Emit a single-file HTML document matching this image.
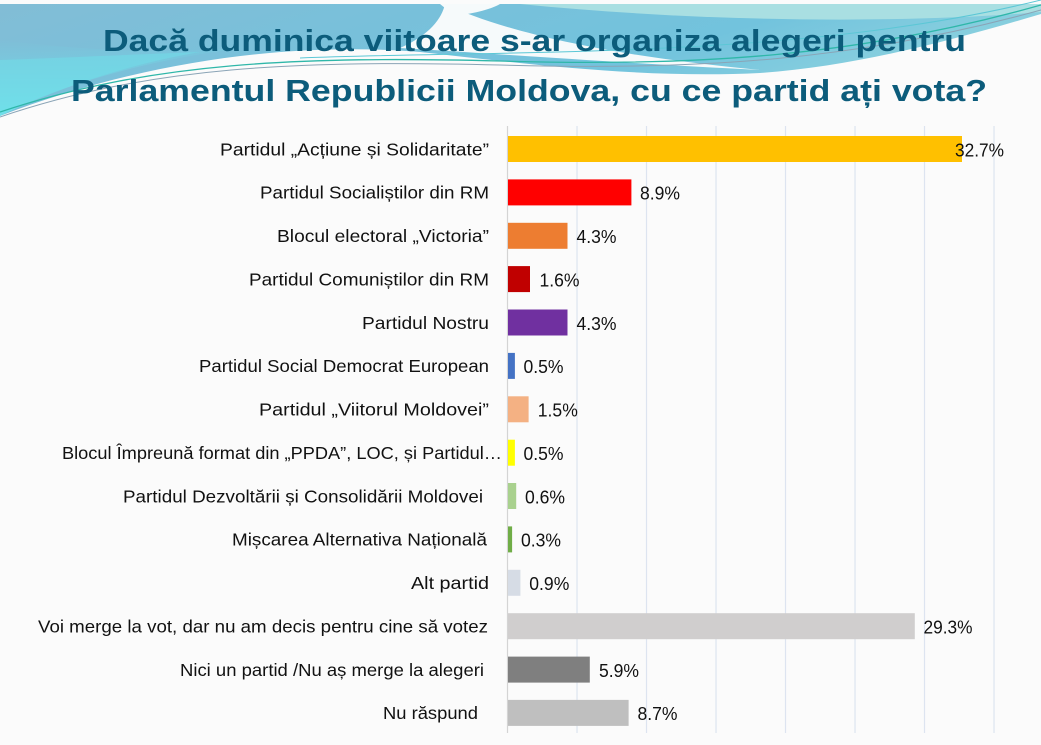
<!DOCTYPE html>
<html>
<head>
<meta charset="utf-8">
<style>
  html,body{margin:0;padding:0;background:#fbfbfb;}
  svg{display:block;}
  text{font-family:"Liberation Sans",sans-serif;}
</style>
</head>
<body>
<svg width="1041" height="745" viewBox="0 0 1041 745" xmlns="http://www.w3.org/2000/svg">
  <defs>
    <linearGradient id="gMain" x1="0" y1="0" x2="1" y2="0.35">
      <stop offset="0" stop-color="#82bdd6"/>
      <stop offset="0.35" stop-color="#79c0da"/>
      <stop offset="0.7" stop-color="#72c3dd"/>
      <stop offset="1" stop-color="#8fd3df"/>
    </linearGradient>
    <linearGradient id="gCyan" x1="0" y1="0" x2="0" y2="1">
      <stop offset="0" stop-color="#6fe0ea" stop-opacity="0"/>
      <stop offset="1" stop-color="#6fe4ec" stop-opacity="0.9"/>
    </linearGradient>
  </defs>

  <rect x="0" y="0" width="1041" height="745" fill="#fbfbfb"/>

  <!-- header decoration -->
  <path d="M0,4 H1041 V14 C 960,38 860,66 760,73 C 640,79 520,63 420,52 C 300,42 150,58 0,116 Z" fill="url(#gMain)"/>
  <path d="M0,40 C 80,50 160,55 260,46 C 150,58 60,85 0,116 Z" fill="url(#gCyan)"/>
  <path d="M0,60 L0,116 C 60,88 120,66 200,52 C 120,55 60,58 0,60 Z" fill="#6fe0ea" opacity="0.5"/>
  <path d="M520,4 H1041 V12 C 900,24 700,22 520,4 Z" fill="#a9dfe2"/>
  <path d="M445,4 C 500,30 600,55 760,70 C 620,63 500,54 400,48 C 430,35 442,18 445,4 Z" fill="#f6fafb"/>
  <path d="M440,4 C 470,4 480,4 500,4 C 490,10 470,14 455,16 Z" fill="#f6fafb"/>
  <path d="M0,112 C 150,62 300,56 500,61 C 700,67 860,56 1041,5" fill="none" stroke="#2fb7a9" stroke-width="1.3"/>
  <path d="M0,117 C 150,66 300,60 500,65 C 700,71 860,60 1041,10" fill="none" stroke="#8aa4b6" stroke-width="1"/>
  <path d="M300,58 C 500,50 800,60 1041,0" fill="none" stroke="#5cc7d6" stroke-width="1"/>

  <!-- title -->
  <text x="103" y="51" font-size="31" font-weight="bold" fill="#0c5c7b" textLength="863" lengthAdjust="spacingAndGlyphs">Dacă duminica viitoare s-ar organiza alegeri pentru</text>
  <text x="71" y="101" font-size="31" font-weight="bold" fill="#0c5c7b" textLength="916" lengthAdjust="spacingAndGlyphs">Parlamentul Republicii Moldova, cu ce partid ați vota?</text>

  <!-- gridlines -->
  <g stroke="#dde4f0" stroke-width="1.2">
    <line x1="577" y1="126" x2="577" y2="733"/>
    <line x1="646.5" y1="126" x2="646.5" y2="733"/>
    <line x1="716" y1="126" x2="716" y2="733"/>
    <line x1="785.5" y1="126" x2="785.5" y2="733"/>
    <line x1="855" y1="126" x2="855" y2="733"/>
    <line x1="924.5" y1="126" x2="924.5" y2="733"/>
    <line x1="994" y1="126" x2="994" y2="733"/>
  </g>
  <line x1="507.5" y1="126" x2="507.5" y2="733" stroke="#d4d4d4" stroke-width="1.2"/>

  <!-- bars -->
  <rect x="508" y="136" width="454" height="26" fill="#FFC000"/>
  <rect x="508" y="179.4" width="123.4" height="26" fill="#FF0000"/>
  <rect x="508" y="222.8" width="59.5" height="26" fill="#ED7D31"/>
  <rect x="508" y="266.1" width="22" height="26" fill="#C00000"/>
  <rect x="508" y="309.5" width="59.5" height="26" fill="#7030A0"/>
  <rect x="508" y="352.9" width="6.9" height="26" fill="#4472C4"/>
  <rect x="508" y="396.3" width="20.6" height="26" fill="#F4B183"/>
  <rect x="508" y="439.7" width="6.9" height="26" fill="#FFFF00"/>
  <rect x="508" y="483" width="8.2" height="26" fill="#A9D18E"/>
  <rect x="508" y="526.4" width="4.1" height="26" fill="#70AD47"/>
  <rect x="508" y="569.8" width="12.4" height="26" fill="#D6DCE5"/>
  <rect x="508" y="613.2" width="406.8" height="26" fill="#D0CECE"/>
  <rect x="508" y="656.6" width="81.8" height="26" fill="#7F7F7F"/>
  <rect x="508" y="699.9" width="120.6" height="26" fill="#BFBFBF"/>

  <!-- category labels -->
  <g font-size="17.5" fill="#111" text-anchor="end">
    <text x="489" y="155.3" textLength="269" lengthAdjust="spacingAndGlyphs">Partidul „Acțiune și Solidaritate”</text>
    <text x="489" y="198.7" textLength="229" lengthAdjust="spacingAndGlyphs">Partidul Socialiștilor din RM</text>
    <text x="489" y="242.1" textLength="212" lengthAdjust="spacingAndGlyphs">Blocul electoral „Victoria”</text>
    <text x="489" y="285.4" textLength="240" lengthAdjust="spacingAndGlyphs">Partidul Comuniștilor din RM</text>
    <text x="489" y="328.8" textLength="127" lengthAdjust="spacingAndGlyphs">Partidul Nostru</text>
    <text x="489" y="372.2" textLength="290" lengthAdjust="spacingAndGlyphs">Partidul Social Democrat European</text>
    <text x="489" y="415.6" textLength="230" lengthAdjust="spacingAndGlyphs">Partidul „Viitorul Moldovei”</text>
    <text x="502" y="459" textLength="440" lengthAdjust="spacingAndGlyphs">Blocul Împreună format din „PPDA”, LOC, și Partidul…</text>
    <text x="483" y="502.3" textLength="360" lengthAdjust="spacingAndGlyphs">Partidul Dezvoltării și Consolidării Moldovei</text>
    <text x="487" y="545.7" textLength="255" lengthAdjust="spacingAndGlyphs">Mișcarea Alternativa Națională</text>
    <text x="489" y="589.1" textLength="78" lengthAdjust="spacingAndGlyphs">Alt partid</text>
    <text x="488" y="632.5" textLength="450" lengthAdjust="spacingAndGlyphs">Voi merge la vot, dar nu am decis pentru cine să votez</text>
    <text x="484" y="675.9" textLength="304" lengthAdjust="spacingAndGlyphs">Nici un partid /Nu aș merge la alegeri</text>
    <text x="478" y="719.2" textLength="95" lengthAdjust="spacingAndGlyphs">Nu răspund</text>
  </g>

  <!-- value labels -->
  <g font-size="18.5" fill="#111">
    <text x="955" y="156.3" textLength="49" lengthAdjust="spacingAndGlyphs">32.7%</text>
    <text x="640" y="199.7" textLength="40" lengthAdjust="spacingAndGlyphs">8.9%</text>
    <text x="576.5" y="243.1" textLength="40" lengthAdjust="spacingAndGlyphs">4.3%</text>
    <text x="539.5" y="286.4" textLength="40" lengthAdjust="spacingAndGlyphs">1.6%</text>
    <text x="576.5" y="329.8" textLength="40" lengthAdjust="spacingAndGlyphs">4.3%</text>
    <text x="523.5" y="373.2" textLength="40" lengthAdjust="spacingAndGlyphs">0.5%</text>
    <text x="537.8" y="416.6" textLength="40" lengthAdjust="spacingAndGlyphs">1.5%</text>
    <text x="523.5" y="460" textLength="40" lengthAdjust="spacingAndGlyphs">0.5%</text>
    <text x="525" y="503.3" textLength="40" lengthAdjust="spacingAndGlyphs">0.6%</text>
    <text x="521" y="546.7" textLength="40" lengthAdjust="spacingAndGlyphs">0.3%</text>
    <text x="529.3" y="590.1" textLength="40" lengthAdjust="spacingAndGlyphs">0.9%</text>
    <text x="923.5" y="633.5" textLength="49" lengthAdjust="spacingAndGlyphs">29.3%</text>
    <text x="599" y="676.9" textLength="40" lengthAdjust="spacingAndGlyphs">5.9%</text>
    <text x="637.5" y="720.2" textLength="40" lengthAdjust="spacingAndGlyphs">8.7%</text>
  </g>
</svg>
</body>
</html>
